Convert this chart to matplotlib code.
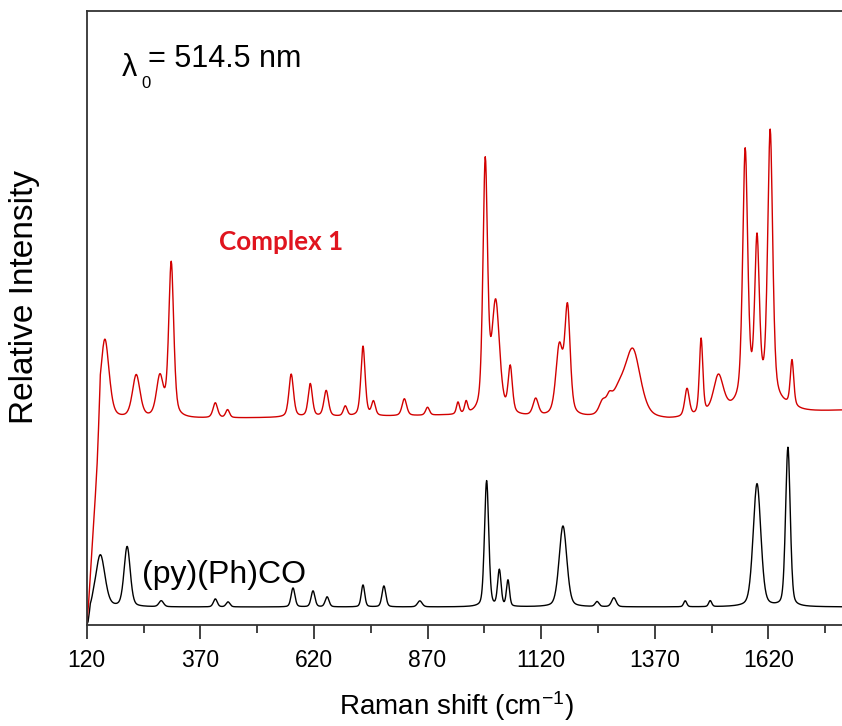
import numpy as np
import matplotlib
matplotlib.use("Agg")
import matplotlib.pyplot as plt
from matplotlib.ticker import MultipleLocator

plt.rcParams["font.family"] = ["Liberation Sans", "DejaVu Sans"]
plt.rcParams["mathtext.default"] = "regular"

# ---- data (cm-1, intensity in arbitrary units) -----------------------------
# (py)(Ph)CO, black trace: band centre, height above baseline, FWHM
black_pos = [150, 209, 284, 403, 431, 574, 618, 649, 728, 774, 853,
             1000, 1028, 1047, 1168, 1243, 1280, 1437, 1492, 1595, 1663]
black_amp = [52, 60, 6, 8, 5, 19, 16, 10, 22, 21, 6,
             126, 36, 26, 81, 5, 9, 6, 6, 123, 159]
black_fwhm = [24, 16, 12, 10, 10, 10, 10, 10, 9, 10, 12,
              11, 9, 8, 20, 10, 12, 8, 8, 20, 12]
black_base = 18
black_edge_wn = [120, 123, 128, 134]
black_edge_t = [0.0, 0.15, 0.85, 1.0]

# Complex 1, red trace
red_pos = [160, 229, 281, 306, 403, 430, 570, 612, 647, 689, 728, 751, 819,
           870, 937, 955, 997, 1020, 1052, 1108, 1160, 1178, 1255, 1270,
           1290, 1322, 1441, 1472, 1510, 1569, 1595, 1600, 1624, 1672]
red_amp = [80, 43, 40, 155, 15, 8, 43, 33, 26, 10, 70, 14, 17,
           8, 12, 12, 250, 110, 46, 17, 68, 106, 12, 10,
           22, 66, 28, 76, 38, 249, 152, 18, 266, 46]
red_fwhm = [22, 20, 18, 13, 12, 10, 12, 11, 12, 10, 11, 10, 12,
            10, 8, 8, 12, 20, 11, 14, 18, 14, 18, 14,
            40, 40, 12, 9, 26, 13, 12, 100, 13, 9]
red_base_wn = [120, 500, 900, 1400, 1782]
red_base_lvl = [205, 207, 209, 204, 214]
red_edge_wn = [120, 124, 134, 143, 150]
red_edge_t = [0.0, 0.1, 0.44, 0.72, 1.0]

xticks = [120, 370, 620, 870, 1120, 1370, 1620]


def spectrum(wn, pos, amp, fwhm, eta):
    """pseudo-Voigt sum of the listed bands"""
    y = np.zeros_like(wn)
    for p, a, w in zip(pos, amp, fwhm):
        d = (wn - p) / w
        y += a * ((1 - eta) * np.exp(-4 * np.log(2) * d ** 2) + eta / (1 + 4 * d ** 2))
    return y


wn = np.arange(120, 1784, 1.0)
black = (black_base + spectrum(wn, black_pos, black_amp, black_fwhm, 0.3)) \
    * np.interp(wn, black_edge_wn, black_edge_t)
red = (np.interp(wn, red_base_wn, red_base_lvl)
       + spectrum(wn, red_pos, red_amp, red_fwhm, 0.45)) \
    * np.interp(wn, red_edge_wn, red_edge_t)

W, H = 842, 726
fig = plt.figure(figsize=(W / 100, H / 100), dpi=100)
ax = fig.add_axes([86.7 / W, (H - 625) / H, 1 - 86.7 / W, 614 / H])

ax.plot(wn, black, color="black", lw=1.0)
ax.plot(wn, red, color="#d20000", lw=1.0)

ax.set_xlim(120, 1782)
ax.set_ylim(0, 614)
ax.set_xticks(xticks)
ax.xaxis.set_minor_locator(MultipleLocator(250, offset=245))
ax.tick_params(axis="x", which="major", direction="out", length=10, width=1.3,
               labelsize=16.5, pad=7, color="#333333")
ax.tick_params(axis="x", which="minor", direction="out", length=6, width=1.3,
               color="#333333")
ax.set_yticks([])
for side in ("left", "top", "bottom"):
    ax.spines[side].set_linewidth(1.3)
    ax.spines[side].set_color("#333333")
ax.spines["right"].set_visible(False)

ax.set_xlabel("Raman shift (cm$^{-1}$)", fontsize=20, labelpad=12)
ax.xaxis.set_label_coords((456 - 86.7) / (W - 86.7), -0.105)
fig.text(25 / W, 1 - 297 / H, "Relative Intensity", rotation=90,
         fontsize=24, ha="center", va="center")

# annotations
fig.text(122 / W, 1 - 76 / H, "λ", fontsize=22, ha="left", va="baseline")
fig.text(141 / W, 1 - 88 / H, "0", fontsize=12, ha="left", va="baseline")
fig.text(148 / W, 1 - 67 / H, "= 514.5 nm", fontsize=22, ha="left",
         va="baseline")
fig.text(219 / W, 1 - 250 / H, "Complex 1", fontsize=18.7, fontweight="bold",
         color="#e0141e", family=["Lato", "DejaVu Sans"], ha="left",
         va="baseline")
fig.text(142 / W, 1 - 583 / H, "(py)(Ph)CO", fontsize=23, ha="left",
         va="baseline")

fig.savefig("out.png", dpi=100)
